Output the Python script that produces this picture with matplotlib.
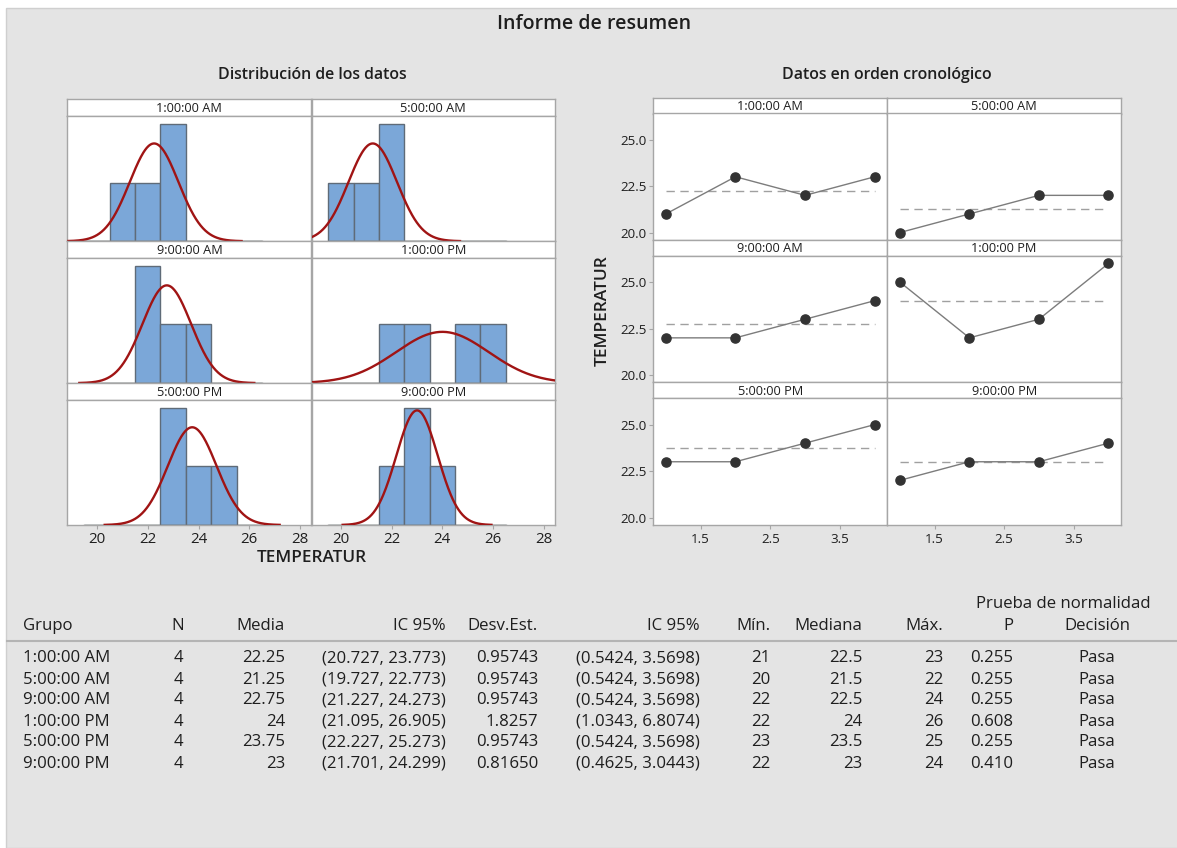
import numpy as np
import matplotlib
matplotlib.use("Agg")
import matplotlib.pyplot as plt
from matplotlib.patches import Rectangle

plt.rcParams['font.family'] = ['Open Sans', 'DejaVu Sans']

# ---------------- data ----------------
groups = ['1:00:00 AM', '5:00:00 AM', '9:00:00 AM', '1:00:00 PM', '5:00:00 PM', '9:00:00 PM']
temp_1am = [21, 23, 22, 23]
temp_5am = [20, 21, 22, 22]
temp_9am = [22, 22, 23, 24]
temp_1pm = [25, 22, 23, 26]
temp_5pm = [23, 23, 24, 25]
temp_9pm = [22, 23, 23, 24]
series = [temp_1am, temp_5am, temp_9am, temp_1pm, temp_5pm, temp_9pm]

hist_ticks = [20, 22, 24, 26, 28]
ts_xticks = [1.5, 2.5, 3.5]
ts_yticks = [20.0, 22.5, 25.0]

col_n = ['4', '4', '4', '4', '4', '4']
col_media = ['22.25', '21.25', '22.75', '24', '23.75', '23']
col_ic_media = ['(20.727, 23.773)', '(19.727, 22.773)', '(21.227, 24.273)',
                '(21.095, 26.905)', '(22.227, 25.273)', '(21.701, 24.299)']
col_desv = ['0.95743', '0.95743', '0.95743', '1.8257', '0.95743', '0.81650']
col_ic_desv = ['(0.5424, 3.5698)', '(0.5424, 3.5698)', '(0.5424, 3.5698)',
               '(1.0343, 6.8074)', '(0.5424, 3.5698)', '(0.4625, 3.0443)']
col_min = ['21', '20', '22', '22', '23', '22']
col_mediana = ['22.5', '21.5', '22.5', '24', '23.5', '23']
col_max = ['23', '22', '24', '26', '25', '24']
col_p = ['0.255', '0.255', '0.255', '0.608', '0.255', '0.410']
col_decision = ['Pasa', 'Pasa', 'Pasa', 'Pasa', 'Pasa', 'Pasa']

# ---------------- figure ----------------
W, H = 1177, 848
fig = plt.figure(figsize=(W / 100, H / 100), dpi=100, facecolor='white')
BG = '#e4e4e4'
TXT = '#1e1e1e'
BORDER = '#a6a6a6'
fig.patches.append(Rectangle((5.5 / W, 0), 1, (H - 8) / H, transform=fig.transFigure,
                             facecolor=BG, edgecolor='#cfcfcf', lw=1, zorder=-10))


def ax_px(x0, y0, x1, y1, **kw):
    return fig.add_axes([x0 / W, 1 - y1 / H, (x1 - x0) / W, (y1 - y0) / H], **kw)


def strip(x0, y0, x1, y1, label):
    a = ax_px(x0, y0, x1, y1)
    a.set_facecolor('white')
    a.set_xticks([]); a.set_yticks([])
    for s in a.spines.values():
        s.set_color(BORDER); s.set_linewidth(1)
    a.text(0.5, 0.45, label, ha='center', va='center', fontsize=9.2, color=TXT,
           transform=a.transAxes)
    return a


def style_plot(a):
    a.set_facecolor('white')
    for s in a.spines.values():
        s.set_color(BORDER); s.set_linewidth(1)


fig.text(594 / W, 1 - 24 / H, 'Informe de resumen', ha='center', va='center',
         fontsize=14, fontweight='semibold', color=TXT)
fig.text(312 / W, 1 - 75 / H, 'Distribución de los datos', ha='center', va='center',
         fontsize=11.4, fontweight='semibold', color=TXT)
fig.text(887 / W, 1 - 75 / H, 'Datos en orden cronológico', ha='center', va='center',
         fontsize=11.4, fontweight='semibold', color=TXT)

# ---------------- histograms ----------------
hx = [67.3, 311.5, 555]
htop, hbot, sh = 99.3, 525, 17
hrow = (hbot - htop) / 3
edges = np.arange(19.5, 27.0, 1.0)
for i, (g, d) in enumerate(zip(groups, series)):
    r, c = divmod(i, 2)
    y0 = htop + r * hrow
    strip(hx[c], y0, hx[c + 1], y0 + sh, g)
    a = ax_px(hx[c], y0 + sh, hx[c + 1], y0 + hrow)
    style_plot(a)
    a.hist(d, bins=edges, color='#7ba7d8', edgecolor='#5f6b78', linewidth=1, zorder=2)
    a.plot([edges[0], edges[-1]], [0, 0], color='#6b6b6b', lw=1, zorder=3)
    m, s = np.mean(d), np.std(d, ddof=1)
    xs = np.linspace(m - 3.6 * s, m + 3.6 * s, 300)
    ys = len(d) * 1.0 * np.exp(-0.5 * ((xs - m) / s) ** 2) / (s * np.sqrt(2 * np.pi))
    a.plot(xs, ys, color='#a01414', lw=1.7, zorder=4)
    a.set_xlim(18.83, 28.45)
    a.set_ylim(0, 2.13)
    a.set_yticks([])
    if r == 2:
        a.set_xticks(hist_ticks)
        a.tick_params(axis='x', length=3, color=BORDER, labelsize=10.8, labelcolor=TXT, pad=2)
    else:
        a.set_xticks([])

fig.text(312 / W, 1 - 558 / H, 'TEMPERATUR', ha='center', va='center',
         fontsize=12.3, fontweight='semibold', color=TXT)

# ---------------- time series ----------------
tx = [653.3, 887.3, 1121]
ttop, tbot, tsh = 97.5, 525, 16
trow = (tbot - ttop) / 3
for i, (g, d) in enumerate(zip(groups, series)):
    r, c = divmod(i, 2)
    y0 = ttop + r * trow
    strip(tx[c], y0, tx[c + 1], y0 + tsh, g)
    a = ax_px(tx[c], y0 + tsh, tx[c + 1], y0 + trow)
    style_plot(a)
    xs = np.arange(1, len(d) + 1)
    a.hlines(np.mean(d), xs[0], xs[-1], colors='#a0a0a0', linestyles=(0, (6, 4)), lw=1, zorder=2)
    a.plot(xs, d, color='#7c7c7c', lw=1, zorder=3)
    a.plot(xs, d, linestyle='none', marker='o', ms=6.6, mfc='#333333', mec='#333333', zorder=4)
    a.set_xlim(0.82, 4.18)
    a.set_ylim(19.6, 26.4)
    if c == 0:
        a.set_yticks(ts_yticks)
        a.set_yticklabels(['%.1f' % v for v in ts_yticks])
        a.tick_params(axis='y', length=3, color=BORDER, labelsize=9.6, labelcolor=TXT, pad=2)
    else:
        a.set_yticks([])
    if r == 2:
        a.set_xticks(ts_xticks)
        a.set_xticklabels(['%.1f' % v for v in ts_xticks])
        a.tick_params(axis='x', length=3, color=BORDER, labelsize=9.6, labelcolor=TXT, pad=3)
    else:
        a.set_xticks([])

fig.text(603 / W, 1 - 311 / H, 'TEMPERATUR', ha='center', va='center', rotation=90,
         fontsize=12.5, fontweight='semibold', color=TXT)

# ---------------- table ----------------
FS = 12.1
hdr_y = 626.5
row_ys = [658.5, 679.5, 700.5, 721.5, 742.5, 763.5]
cols = [
    ('Grupo', groups, 23, 'left'),
    ('N', col_n, 178, 'center'),
    ('Media', col_media, 285, 'right'),
    ('IC 95%', col_ic_media, 446, 'right'),
    ('Desv.Est.', col_desv, 538, 'right'),
    ('IC 95%', col_ic_desv, 700, 'right'),
    ('Mín.', col_min, 770, 'right'),
    ('Mediana', col_mediana, 862, 'right'),
    ('Máx.', col_max, 943, 'right'),
    ('P', col_p, 1013, 'right'),
    ('Decisión', col_decision, 1097, 'center'),
]
for head, vals, x, ha in cols:
    fig.text(x / W, 1 - hdr_y / H, head, ha=ha, va='center', fontsize=FS, color=TXT)
    for v, y in zip(vals, row_ys):
        fig.text(x / W, 1 - y / H, v, ha=ha, va='center', fontsize=FS, color=TXT)
fig.text(1063 / W, 1 - 603.5 / H, 'Prueba de normalidad', ha='center', va='center',
         fontsize=FS, color=TXT)
fig.add_artist(plt.Line2D([7 / W, 1], [1 - 640.5 / H, 1 - 640.5 / H], transform=fig.transFigure,
                          color='#b4b4b4', lw=1.5))

fig.savefig('out.png', dpi=100, facecolor=fig.get_facecolor())
